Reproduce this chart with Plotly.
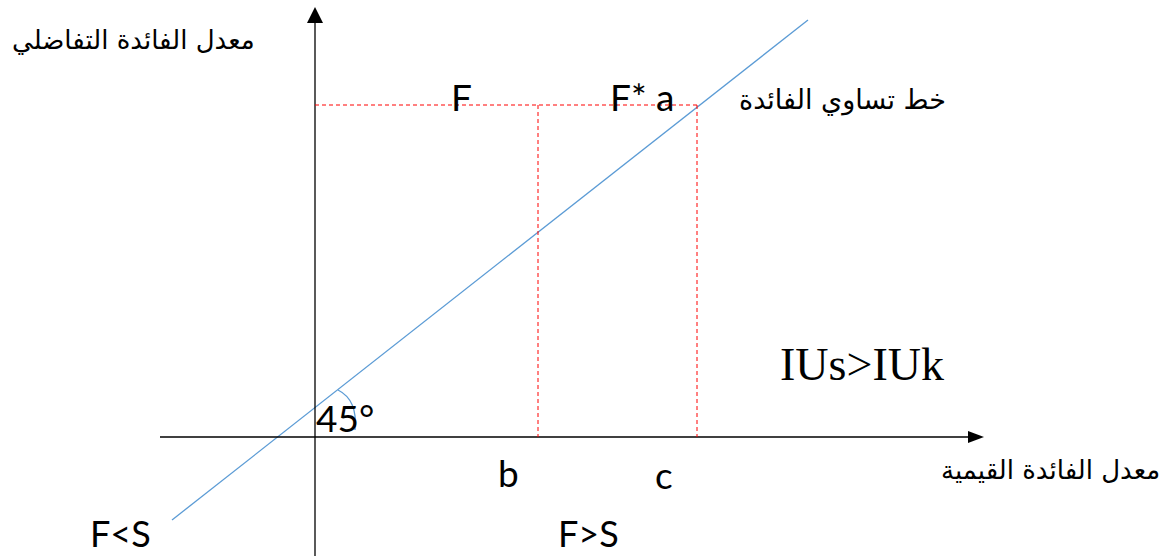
import plotly.graph_objects as go

W, H = 1162, 556

# Axes (pixel-space diagram coordinates)
y_axis_x = 315
y_axis_span = [556, 22]
x_axis_y = 437
x_axis_span = [160, 968]

# 45° line (indifference line)
line_x = [172, 808]
line_y = [520, 20]

# Red dashed guides
level_y = 105
guide_x = [538, 697]

# Labels (centre-anchored)
latin_labels = ["F", "F* a", "45°", "b", "c"]
latin_x = [461, 642, 345, 508, 664]
latin_y = [96, 96, 417, 472, 474]

# Labels at the bottom edge (bottom-anchored)
bottom_labels = ["F<S", "F>S"]
bottom_x = [120, 588]
bottom_y = [556, 556]

arabic_labels = ["معدل الفائدة التفاضلي", "خط تساوي الفائدة", "معدل الفائدة القيمية"]
arabic_x = [133, 842, 1050]
arabic_y = [40, 100, 470]
arabic_sizes = [26, 27, 26]

fig = go.Figure()

# blue line
fig.add_trace(go.Scatter(x=line_x, y=line_y, mode="lines",
                         line=dict(color="#5B9BD5", width=1.3), hoverinfo="skip"))
# axes
fig.add_trace(go.Scatter(x=[y_axis_x, y_axis_x], y=y_axis_span, mode="lines",
                         line=dict(color="black", width=1.3), hoverinfo="skip"))
fig.add_trace(go.Scatter(x=x_axis_span, y=[x_axis_y, x_axis_y], mode="lines",
                         line=dict(color="black", width=1.3), hoverinfo="skip"))
# red dashed
fig.add_trace(go.Scatter(x=[y_axis_x, guide_x[1]], y=[level_y, level_y], mode="lines",
                         line=dict(color="#FF0000", width=1, dash="4px,3px"), hoverinfo="skip"))
for gx in guide_x:
    fig.add_trace(go.Scatter(x=[gx, gx], y=[level_y, x_axis_y], mode="lines",
                             line=dict(color="#FF0000", width=1, dash="4px,3px"), hoverinfo="skip"))

shapes = [
    # arrowheads
    dict(type="path", path=f"M {y_axis_x} 7 L {y_axis_x-8} 23 L {y_axis_x+8} 23 Z",
         fillcolor="black", line=dict(color="black", width=0), xref="x", yref="y"),
    dict(type="path", path=f"M 984 {x_axis_y} L 968 {x_axis_y-6} L 968 {x_axis_y+6} Z",
         fillcolor="black", line=dict(color="black", width=0), xref="x", yref="y"),
    # angle arc
    dict(type="path", path="M 338 390 Q 358 400 355 430",
         line=dict(color="#5B9BD5", width=1.3), xref="x", yref="y"),
]

annotations = []
latin_font = dict(family="Lato, Open Sans, sans-serif", size=37, color="black")
for t, x, y in zip(latin_labels, latin_x, latin_y):
    annotations.append(dict(x=x, y=y, text=t, showarrow=False, xref="x", yref="y",
                            font=latin_font, xanchor="center", yanchor="middle"))
for t, x, y in zip(bottom_labels, bottom_x, bottom_y):
    annotations.append(dict(x=x, y=y, text=t, showarrow=False, xref="x", yref="y",
                            font=dict(family="Lato, Open Sans, sans-serif", size=36, color="black"),
                            xanchor="center", yanchor="bottom", borderpad=0))
for t, x, y, s in zip(arabic_labels, arabic_x, arabic_y, arabic_sizes):
    annotations.append(dict(x=x, y=y, text=t, showarrow=False, xref="x", yref="y",
                            font=dict(family="DejaVu Serif, DejaVu Sans, serif", size=s, color="black"),
                            xanchor="center", yanchor="middle"))
annotations.append(dict(x=862, y=364, text="IUs>IUk", showarrow=False, xref="x", yref="y",
                        font=dict(family="Liberation Serif, serif", size=46, color="black"),
                        xanchor="center", yanchor="middle"))

fig.update_layout(
    width=W, height=H,
    margin=dict(l=0, r=0, t=0, b=0),
    paper_bgcolor="white", plot_bgcolor="white",
    showlegend=False,
    shapes=shapes, annotations=annotations,
    xaxis=dict(range=[0, W], visible=False, fixedrange=True),
    yaxis=dict(range=[H, 0], visible=False, fixedrange=True),
)

fig.write_html("out.html", config={"displayModeBar": False},
               post_script="document.body.style.margin='0';document.body.style.overflow='hidden';")
